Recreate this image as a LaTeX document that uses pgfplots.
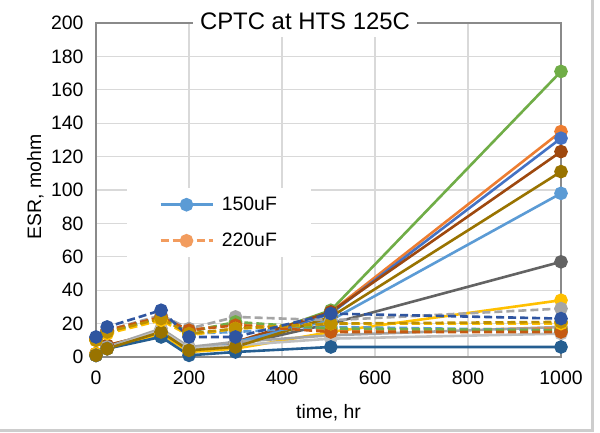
\documentclass[border=0pt]{standalone}
\usepackage{fontspec}
\setmainfont{Liberation Sans}
\usepackage{pgfplots}
\pgfplotsset{compat=1.18}
\definecolor{cgreen}{HTML}{70AD47}
\definecolor{corange}{HTML}{ED7D31}
\definecolor{cblue}{HTML}{4472C4}
\definecolor{cbrown}{HTML}{9E480E}
\definecolor{colive}{HTML}{997300}
\definecolor{clblue}{HTML}{5B9BD5}
\definecolor{cdgray}{HTML}{636363}
\definecolor{cgold}{HTML}{FFC000}
\definecolor{cgray}{HTML}{A5A5A5}
\definecolor{clgray}{HTML}{BFBFBF}
\definecolor{cdblue}{HTML}{255E91}
\definecolor{cnavy}{HTML}{2F55A0}
\definecolor{cdorange}{HTML}{C55A11}
\definecolor{cdgold}{HTML}{BF9000}
\definecolor{legorange}{HTML}{F29C5E}
\definecolor{gridc}{HTML}{D9D9D9}
\definecolor{axisc}{HTML}{8A8A8A}
\definecolor{borderc}{HTML}{CDCDCD}
\pgfplotsset{
  sol/.style={color=#1, line width=2.6bp, solid, mark=*, mark size=5.5bp, mark options={solid, fill=#1, draw=#1}},
  das/.style={color=#1, line width=2.6bp, dash pattern=on 8bp off 4bp, mark=*, mark size=5.5bp, mark options={solid, fill=#1, draw=#1}},
}
\begin{document}
\begin{tikzpicture}[x=1bp,y=1bp]
\path[use as bounding box, fill=white] (0,0) rectangle (600,432);
\draw[borderc, line width=3bp] (0,1.5) -- (592,1.5) -- (592,432);
\begin{axis}[
  at={(96bp,75bp)}, anchor=south west,
  scale only axis, width=465bp, height=334bp,
  xmin=0, xmax=1000, ymin=0, ymax=200,
  xtick={0,200,...,1000}, ytick={0,20,...,200},
  grid=major, grid style={gridc, line width=1.3bp},
  axis line style={axisc, line width=1.3bp},
  major tick length=0pt,
  clip=false,
  /pgf/number format/assume math mode=true,
  /pgf/number format/1000 sep={},
  tick label style={font=\fontsize{19.5}{23}\selectfont, black},
  xticklabel style={yshift=-10bp},
  yticklabel style={xshift=-9bp},
  legend style={at={(0.0667,0.506)}, anchor=north west, draw=none, fill=white,
    font=\fontsize{19.5}{23}\selectfont, inner xsep=32bp, inner ysep=7bp, row sep=17bp,
    /tikz/every odd column/.append style={column sep=6bp}},
  legend cell align=left,
  legend image code/.code={\draw[mark repeat=2,mark phase=2] plot coordinates {(0bp,0bp) (26bp,0bp) (52bp,0bp)};},
]
% 150uF (solid)
\addplot[sol=cgreen, forget plot] coordinates {(0,1) (24,6) (140,14) (200,4) (300,8) (505,28) (1000,171)};
\addplot[sol=corange, forget plot] coordinates {(0,2) (24,7) (140,15) (200,4) (300,8) (505,27) (1000,135)};
\addplot[sol=cblue, forget plot] coordinates {(0,1) (24,6) (140,14) (200,3) (300,7) (505,26) (1000,131)};
\addplot[sol=cbrown, forget plot] coordinates {(0,2) (24,7) (140,15) (200,4) (300,9) (505,27) (1000,123)};
\addplot[sol=clblue, forget plot] coordinates {(0,1) (24,5) (140,13) (200,5) (300,9) (505,22) (1000,98)};
\addplot[sol=cdgray, forget plot] coordinates {(0,1) (24,5) (140,14) (200,4) (300,7) (505,20) (1000,57)};
\addplot[sol=cgold, forget plot] coordinates {(0,2) (24,5) (140,14) (200,3) (300,5) (505,15) (1000,34)};
\addplot[sol=cgray, forget plot] coordinates {(0,1) (24,6) (140,17) (200,6) (300,9) (505,13) (1000,18)};
\addplot[sol=clgray, forget plot] coordinates {(0,1) (24,5) (140,16) (200,5) (300,7) (505,11) (1000,14)};
\addplot[sol=cdblue, forget plot] coordinates {(0,1) (24,5) (140,12) (200,1) (300,3) (505,6) (1000,6)};
\addplot[sol=colive, forget plot] coordinates {(0,1) (24,5) (140,15) (200,4) (300,6) (505,24) (1000,111)};
% 220uF (dashed)
\addplot[das=corange, forget plot] coordinates {(0,11) (24,16) (140,24) (200,16) (300,20) (505,16) (1000,17)};
\addplot[das=cgray, forget plot] coordinates {(0,11) (24,16) (140,25) (200,17) (300,24) (505,22) (1000,29)};
\addplot[das=clblue, forget plot] coordinates {(0,11) (24,15) (140,24) (200,14) (300,15) (505,18) (1000,16)};
\addplot[das=cgreen, forget plot] coordinates {(0,11) (24,15) (140,23) (200,15) (300,21) (505,17) (1000,16)};
\addplot[das=cdorange, forget plot] coordinates {(0,11) (24,16) (140,24) (200,16) (300,19) (505,15) (1000,15)};
\addplot[das=cgold, forget plot] coordinates {(0,10) (24,14) (140,22) (200,13) (300,17) (505,20) (1000,20)};
\addplot[das=cdgold, forget plot] coordinates {(0,10) (24,15) (140,23) (200,14) (300,17) (505,20) (1000,21)};
\addplot[das=cnavy, forget plot] coordinates {(0,12) (24,18) (140,28) (200,12) (300,12) (505,26) (1000,23)};
\addlegendimage{sol=clblue}
\addlegendentry{150uF}
\addlegendimage{das=legorange}
\addlegendentry{220uF}
\end{axis}
\fill[white] (193,395) rectangle (417,432);
\node[anchor=base, font=\fontsize{24}{28}\selectfont, inner sep=0pt] at (305,402.7) {CPTC at HTS 125C};
\node[anchor=base, font=\fontsize{19.5}{23}\selectfont, inner sep=0pt] at (328.5,14) {time, hr};
\node[anchor=base, rotate=90, font=\fontsize{19.5}{23}\selectfont, inner sep=0pt] at (41,245) {ESR, mohm};
\end{tikzpicture}
\end{document}
